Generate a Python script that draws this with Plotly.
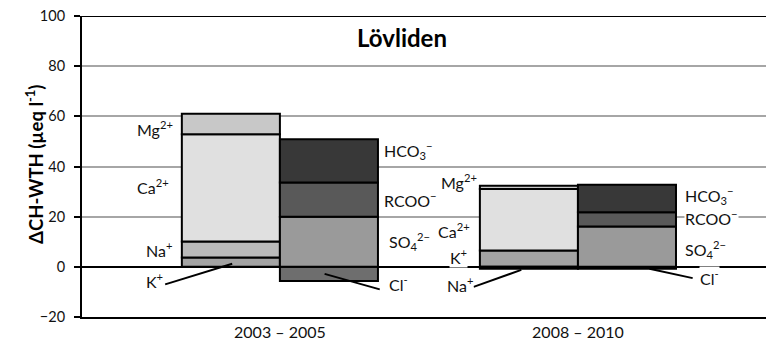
import plotly.graph_objects as go

periods = ["2003 – 2005", "2008 – 2010"]

# cations (stacked bottom -> top)
K = [3.7, 6.5]
Na = [6.4, -0.8]
Ca = [42.8, 24.5]
Mg = [8.1, 1.3]
# anions (stacked bottom -> top)
Cl = [-5.6, -0.8]
SO4 = [20.0, 16.1]
RCOO = [13.6, 5.7]
HCO3 = [17.3, 10.9]

yticks = [-20, 0, 20, 40, 60, 80, 100]

W = 0.329          # bar width (category units)
OFF = W / 2
idx = list(range(len(periods)))
xc = [i - OFF for i in idx]
xa = [i + OFF for i in idx]

FONT = "Lato, 'Open Sans', sans-serif"
fig = go.Figure()

def add(x, y, color, name):
    fig.add_trace(go.Bar(x=x, y=y, width=W, name=name,
                         marker=dict(color=color, line=dict(color="black", width=2)),
                         showlegend=False, hoverinfo="skip"))

add(xc, K, "#a3a3a3", "K+")
add(xc, Na, "#bababa", "Na+")
add(xc, Ca, "#e0e0e0", "Ca2+")
add(xc, Mg, "#c8c8c8", "Mg2+")
add(xa, Cl, "#6e6e6e", "Cl-")
add(xa, SO4, "#9a9a9a", "SO4")
add(xa, RCOO, "#595959", "RCOO")
add(xa, HCO3, "#383838", "HCO3")

ann = []
def lab(x, y, text, anchor):
    ann.append(dict(x=x, y=y, xref="x", yref="y", text=text, showarrow=False,
                    xanchor=anchor, yanchor="middle",
                    font=dict(family=FONT, size=16, color="#111"),
                    bgcolor="white", borderpad=0))

# left group labels
lab(-0.355, 55.0, "Mg<sup>2+</sup>", "right")
lab(-0.37, 32.0, "Ca<sup>2+</sup>", "right")
lab(-0.36, 7.0, "Na<sup>+</sup>", "right")
lab(-0.39, -5.5, "K<sup>+</sup>", "right")
lab(0.345, 46.5, "HCO<sub>3</sub><sup>−</sup>", "left")
lab(0.345, 27.0, "RCOO<sup>−</sup>", "left")
lab(0.362, 10.0, "SO<sub>4</sub><sup>2−</sup>", "left")
lab(0.362, -6.8, "Cl<sup>-</sup>", "left")
# right group labels
lab(1 - 0.335, 34.0, "Mg<sup>2+</sup>", "right")
lab(1 - 0.36, 14.5, "Ca<sup>2+</sup>", "right")
lab(1 - 0.37, 4.3, "K<sup>+</sup>", "right")
lab(1 - 0.35, -7.2, "Na<sup>+</sup>", "right")
lab(1 + 0.355, 28.5, "HCO<sub>3</sub><sup>−</sup>", "left")
lab(1 + 0.355, 19.5, "RCOO<sup>−</sup>", "left")
lab(1 + 0.355, 7.0, "SO<sub>4</sub><sup>2−</sup>", "left")
lab(1 + 0.405, -4.4, "Cl<sup>-</sup>", "left")

# title and y-axis title
ann.append(dict(x=0.468, y=0.93, xref="paper", yref="paper", text="<b>Lövliden</b>",
                xanchor="center", yanchor="middle",
                showarrow=False, font=dict(family=FONT, size=24, color="black")))
ann.append(dict(x=-0.0687, y=0.505, xref="paper", yref="paper",
                text="<b>ΔCH-WTH (µeq l<sup>-1</sup>)</b>", textangle=-90,
                xanchor="center", yanchor="middle",
                showarrow=False, font=dict(family=FONT, size=18.5, color="black")))

# leader lines
shapes = []
def lead(x0, y0, x1, y1):
    shapes.append(dict(type="line", xref="x", yref="y", x0=x0, y0=y0, x1=x1, y1=y1,
                       line=dict(color="black", width=2)))
lead(-0.385, -7.0, -0.16, 1.2)
lead(0.335, -9.0, 0.15, -2.8)
lead(1 - 0.35, -8.0, 1 - 0.19, -1.2)
lead(1 + 0.385, -4.5, 1 + 0.24, -0.8)
# top frame line
shapes.append(dict(type="line", xref="paper", yref="y", x0=0, x1=1, y0=100, y1=100,
                   line=dict(color="black", width=2)))

fig.update_layout(
    template="none",
    width=766, height=344,
    margin=dict(l=82, r=0, t=16, b=27, autoexpand=False),
    paper_bgcolor="white", plot_bgcolor="white",
    barmode="relative",
    annotations=ann, shapes=shapes,
    xaxis=dict(range=[-0.664, 1.631], tickvals=idx, ticktext=periods, automargin=False,
               showgrid=False, zeroline=False, showline=True, linecolor="black",
               linewidth=2, ticks="", tickfont=dict(family=FONT, size=16, color="#111")),
    yaxis=dict(range=[-20, 100], tickvals=yticks, showgrid=True, gridcolor="#a6a6a6",
               gridwidth=2, zeroline=True, zerolinecolor="black", zerolinewidth=2,
               showline=True, linecolor="black", linewidth=2, ticks="outside",
               ticklen=6, tickwidth=2, tickcolor="black", automargin=False,
               ticklabelstandoff=6,
               tickfont=dict(family=FONT, size=14.5, color="#111")),
)

fig.write_html("out.html", config={"displayModeBar": False},
               post_script="document.body.style.margin='0';document.body.style.overflow='hidden';")
